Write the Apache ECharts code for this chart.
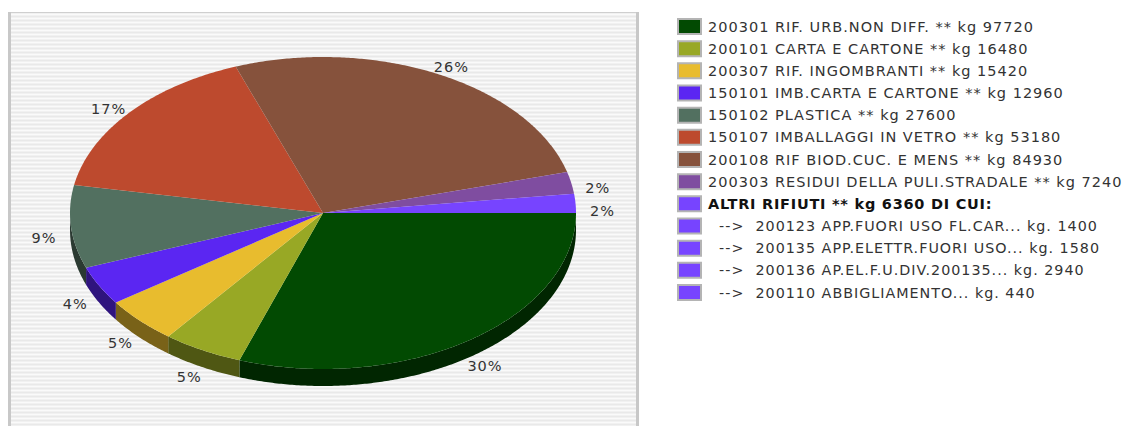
<!DOCTYPE html>
<html>
<head>
<meta charset="utf-8">
<style>
  html, body { margin: 0; padding: 0; background: #fff; }
  #main { width: 1125px; height: 426px; }
  /* the reference text is wider than any installed font */
  #main svg text { letter-spacing: 1px; }
  #main svg text[style*="bold"] { letter-spacing: 0.75px; }
</style>
<script src="https://cdn.jsdelivr.net/npm/echarts@6/dist/echarts.min.js"></script>
</head>
<body>
<div id="main"></div>
<script>
// slices of the pie, clockwise from 3 o'clock
let names = [
  '200301 RIF. URB.NON DIFF. ** kg 97720',
  '200101 CARTA E CARTONE ** kg 16480',
  '200307 RIF. INGOMBRANTI ** kg 15420',
  '150101 IMB.CARTA E CARTONE ** kg 12960',
  '150102 PLASTICA ** kg 27600',
  '150107 IMBALLAGGI IN VETRO ** kg 53180',
  '200108 RIF BIOD.CUC. E MENS ** kg 84930',
  '200303 RESIDUI DELLA PULI.STRADALE ** kg 7240',
  'ALTRI RIFIUTI ** kg 6360 DI CUI:',
  '  -->  200123 APP.FUORI USO FL.CAR... kg. 1400',
  '  -->  200135 APP.ELETTR.FUORI USO... kg. 1580',
  '  -->  200136 AP.EL.F.U.DIV.200135... kg. 2940',
  '  -->  200110 ABBIGLIAMENTO... kg. 440'
]
// the last four rows only detail ALTRI RIFIUTI, they get no slice
let values = [97720, 16480, 15420, 12960, 27600, 53180, 84930, 7240, 6360, 0, 0, 0, 0]
let colors = ['#024a02', '#98a825', '#e8bc2e', '#5b26f2', '#527060', '#bd4a2e', '#86523c', '#7f4da0',
  '#7744ff', '#7744ff', '#7744ff', '#7744ff', '#7744ff']
let boldName = 'ALTRI RIFIUTI ** kg 6360 DI CUI:'

let cx = 323, cy = 213, rx = 253, ry = 156, depth = 17
let total = values.reduce((a, b) => a + b, 0)

function point(deg, dy){
  let a = deg * Math.PI / 180
  return [cx + rx * Math.cos(a), cy + ry * Math.sin(a) + (dy || 0)]
}

function slicePoints(from, to){
  let pts = [[cx, cy]]
  for(let d = from; d < to; d += 0.5) pts.push(point(d))
  pts.push(point(to))
  return pts
}

function sidePoints(from, to){
  let top = [], bottom = []
  for(let d = from; d < to; d += 0.5){
    top.push(point(d))
    bottom.unshift(point(d, depth))
  }
  top.push(point(to))
  bottom.unshift(point(to, depth))
  return top.concat(bottom)
}

function darker(hex){
  let rgb = [1, 3, 5].map(i => Math.round(parseInt(hex.substr(i, 2), 16) * 0.52))
  return 'rgb(' + rgb.join(',') + ')'
}

function stripes(){
  let c = document.createElement('canvas')
  c.width = 4
  c.height = 4
  let ctx = c.getContext('2d')
  let rows = ['#e9e9e9', '#f1f1f1', '#fafafa', '#f1f1f1']
  rows.forEach((color, i) => {
    ctx.fillStyle = color
    ctx.fillRect(0, i, 4, 1)
  })
  return c
}

function makeRender(i, from, to){
  return function(params, api){
    if(!values[i]) return
    let color = colors[i]
    let children = []
    // only the front half of the rim can be seen
    if(from < 180){
      children.push({
        type: 'polygon',
        shape: {points: sidePoints(from, Math.min(to, 180))},
        style: {fill: darker(color)}
      })
    }
    children.push({
      type: 'polygon',
      shape: {points: slicePoints(from, to)},
      style: {fill: color}
    })
    let mid = (from + to) / 2
    let a = mid * Math.PI / 180
    let sin = Math.sin(a)
    children.push({
      type: 'text',
      style: {
        x: cx + 280 * Math.cos(a),
        y: cy + 164 * sin + Math.max(0, 9 + 12 * sin),
        text: Math.round(values[i] / total * 100) + '%',
        fill: '#333',
        font: '14.5px "DejaVu Sans"',
        align: 'center',
        verticalAlign: 'middle'
      }
    })
    return {type: 'group', children}
  }
}

let series = []
let start = 0
names.forEach((name, i) => {
  let end = start + values[i] / total * 360
  series.push({
    name,
    type: 'custom',
    coordinateSystem: 'none',
    itemStyle: {color: colors[i]},
    data: [values[i]],
    silent: true,
    renderItem: makeRender(i, start, end)
  })
  start = end
})

let myChart = echarts.init(document.getElementById('main'), null, {renderer: 'svg'})
myChart.setOption({
  animation: false,
  backgroundColor: '#fff',
  graphic: [
    {type: 'rect', z: -10, shape: {x: 8, y: 12, width: 631, height: 414}, style: {fill: {image: stripes(), repeat: 'repeat'}}},
    {type: 'rect', z: -9, shape: {x: 8, y: 12, width: 631, height: 1}, style: {fill: '#cfcfcf'}},
    {type: 'rect', z: -9, shape: {x: 8, y: 12, width: 3, height: 414}, style: {fill: '#c8c8c8'}},
    {type: 'rect', z: -9, shape: {x: 636, y: 12, width: 3, height: 414}, style: {fill: '#c8c8c8'}}
  ],
  legend: {
    orient: 'vertical',
    left: 677,
    top: 18,
    padding: 0,
    itemWidth: 23,
    itemHeight: 15,
    itemGap: 5.17,
    icon: 'rect',
    selectedMode: false,
    itemStyle: {borderColor: '#b4b4b4', borderWidth: 2},
    data: names,
    formatter: name => {
      if(name === boldName) return '{b|' + name + '}'
      if(name.indexOf('-->') >= 0) return '{d|' + name + '}'
      return name
    },
    textStyle: {
      color: '#333',
      fontFamily: 'DejaVu Sans',
      fontSize: 14.5,
      lineHeight: 17,
      padding: [0, 0, 0, 2],
      rich: {
        b: {fontFamily: 'DejaVu Sans', fontSize: 14.5, fontWeight: 'bold', color: '#111', lineHeight: 17},
        d: {fontFamily: 'DejaVu Sans', fontSize: 14.3, color: '#333', lineHeight: 17}
      }
    }
  },
  series
})
</script>
</body>
</html>
